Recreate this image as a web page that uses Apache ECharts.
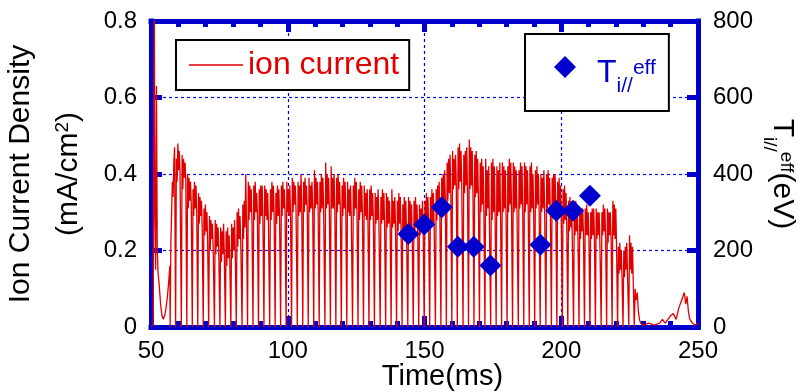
<!DOCTYPE html>
<html>
<head>
<meta charset="utf-8">
<script src="https://cdn.jsdelivr.net/npm/echarts@6/dist/echarts.min.js"></script>
<style>
html,body{margin:0;padding:0;background:#fff;}
#chart{width:802px;height:392px;}
</style>
</head>
<body>
<div id="chart"></div>
<script>
// ---- data ----
const xTicks = [50, 100, 150, 200, 250];          // Time (ms)
const yLeftTicks = [0, 0.2, 0.4, 0.6, 0.8];       // mA/cm2
const yRightTicks = [0, 200, 400, 600, 800];      // eV

// start-up transient (before the chopped part)
const preTime  = [50.2, 50.8, 51.2, 51.4, 51.7, 52.0, 52.3, 52.6, 53.0, 53.5, 54.0, 54.5, 55.0, 55.5, 56.0, 56.5, 56.9];
const preValue = [0.00, 0.01, 0.95, 0.30, 0.15, 0.63, 0.20, 0.14, 0.11, 0.06, 0.03, 0.02, 0.03, 0.05, 0.08, 0.12, 0.16];

// times (ms) at which the ion current drops to zero
const dipTimes = [
  57.0, 59.0, 61.1, 63.1, 65.1, 67.1, 69.1, 71.1, 73.2, 75.2,
  77.2, 79.2, 81.2, 83.3, 85.3, 87.3, 89.3, 91.3, 93.4, 95.4,
  97.4, 99.4, 101.4, 103.5, 105.5, 107.5, 109.5, 111.5, 113.6, 115.6,
  117.6, 119.6, 121.6, 123.7, 125.7, 127.7, 129.7, 131.7, 133.8, 135.8,
  137.8, 139.8, 141.8, 143.9, 145.9, 147.9, 149.9, 151.9, 154.0, 156.0,
  158.0, 160.0, 162.0, 164.1, 166.1, 168.1, 170.1, 172.1, 174.2, 176.2,
  178.2, 180.2, 182.2, 184.3, 186.3, 188.3, 190.3, 192.3, 194.4, 196.4,
  198.4, 200.4, 202.4, 204.5, 206.5, 208.5, 210.5, 212.5, 214.6, 216.6,
  218.6, 220.6, 222.6, 224.7, 226.7
];
// sample spacing (ms) of the readings inside each period
const bandStep = 0.27;
const perCycle = 6;
// six readings (mA/cm2) inside each period between two drops
const ionBand = [
  0.22,0.30,0.38,0.34,0.43,0.47, 0.44,0.38,0.48,0.41,0.46,0.40, 0.45,0.36,0.44,0.39,0.43,0.38,
  0.40,0.31,0.39,0.33,0.38,0.32, 0.36,0.29,0.38,0.31,0.37,0.30, 0.35,0.27,0.34,0.29,0.33,0.26,
  0.31,0.24,0.32,0.25,0.30,0.22, 0.29,0.20,0.28,0.23,0.27,0.21, 0.28,0.19,0.27,0.21,0.26,0.18,
  0.26,0.17,0.25,0.19,0.27,0.18, 0.25,0.16,0.26,0.18,0.24,0.17, 0.27,0.18,0.26,0.20,0.28,0.19,
  0.30,0.21,0.31,0.23,0.29,0.22, 0.32,0.23,0.33,0.26,0.40,0.27, 0.38,0.28,0.37,0.30,0.36,0.27,
  0.37,0.28,0.38,0.30,0.35,0.29, 0.36,0.27,0.37,0.29,0.37,0.28, 0.37,0.29,0.36,0.28,0.35,0.28,
  0.36,0.28,0.38,0.30,0.37,0.29, 0.35,0.27,0.37,0.29,0.36,0.28, 0.37,0.29,0.38,0.31,0.36,0.30,
  0.38,0.30,0.36,0.29,0.37,0.29, 0.39,0.30,0.38,0.32,0.37,0.31, 0.38,0.29,0.37,0.30,0.40,0.31,
  0.38,0.30,0.39,0.32,0.37,0.31, 0.39,0.30,0.37,0.31,0.38,0.31, 0.41,0.31,0.39,0.32,0.38,0.30,
  0.38,0.30,0.40,0.31,0.39,0.31, 0.43,0.31,0.40,0.32,0.39,0.30, 0.42,0.31,0.39,0.31,0.40,0.30,
  0.39,0.30,0.40,0.32,0.38,0.31, 0.37,0.29,0.39,0.31,0.38,0.30, 0.38,0.30,0.36,0.29,0.37,0.29,
  0.37,0.29,0.39,0.31,0.38,0.30, 0.36,0.28,0.38,0.30,0.37,0.29, 0.37,0.29,0.35,0.28,0.36,0.28,
  0.36,0.28,0.37,0.29,0.35,0.27, 0.35,0.27,0.34,0.28,0.36,0.28, 0.34,0.27,0.36,0.28,0.35,0.26,
  0.35,0.26,0.34,0.27,0.33,0.27, 0.36,0.26,0.33,0.27,0.34,0.25, 0.33,0.25,0.35,0.27,0.34,0.26,
  0.32,0.24,0.34,0.26,0.33,0.25, 0.34,0.25,0.33,0.24,0.32,0.23, 0.33,0.24,0.34,0.26,0.32,0.25,
  0.32,0.24,0.31,0.25,0.33,0.25, 0.33,0.25,0.35,0.27,0.34,0.26, 0.34,0.26,0.36,0.27,0.35,0.27,
  0.36,0.28,0.37,0.30,0.38,0.29, 0.39,0.30,0.40,0.32,0.41,0.33, 0.43,0.33,0.44,0.35,0.45,0.35,
  0.46,0.36,0.44,0.37,0.45,0.37, 0.47,0.36,0.48,0.38,0.46,0.37, 0.45,0.35,0.46,0.37,0.47,0.36,
  0.49,0.36,0.47,0.37,0.46,0.35, 0.45,0.34,0.46,0.35,0.44,0.33, 0.43,0.30,0.44,0.32,0.42,0.29,
  0.44,0.29,0.41,0.31,0.42,0.28, 0.43,0.28,0.44,0.30,0.42,0.29, 0.42,0.29,0.41,0.30,0.43,0.28,
  0.43,0.30,0.42,0.31,0.41,0.29, 0.42,0.30,0.44,0.32,0.43,0.31, 0.43,0.30,0.42,0.31,0.41,0.30,
  0.41,0.31,0.43,0.32,0.42,0.30, 0.43,0.30,0.42,0.32,0.41,0.31, 0.42,0.30,0.43,0.31,0.40,0.30,
  0.41,0.31,0.42,0.32,0.40,0.30, 0.40,0.30,0.39,0.31,0.41,0.31, 0.40,0.31,0.41,0.32,0.39,0.30,
  0.39,0.29,0.40,0.31,0.40,0.30, 0.38,0.29,0.39,0.30,0.37,0.28, 0.36,0.27,0.37,0.28,0.35,0.26,
  0.33,0.25,0.34,0.26,0.32,0.24, 0.31,0.24,0.33,0.25,0.32,0.23, 0.30,0.23,0.31,0.25,0.31,0.24,
  0.31,0.24,0.32,0.24,0.30,0.23, 0.30,0.23,0.31,0.24,0.31,0.24, 0.31,0.23,0.30,0.24,0.30,0.22,
  0.30,0.24,0.32,0.25,0.31,0.23, 0.31,0.22,0.30,0.24,0.30,0.23, 0.33,0.24,0.32,0.23,0.31,0.21,
  0.21,0.14,0.22,0.15,0.20,0.13, 0.20,0.13,0.21,0.15,0.22,0.14, 0.24,0.15,0.22,0.14,0.21,0.12
];

// decay and tail after the last drop
const postTime  = [227.0, 227.4, 227.8, 228.2, 228.6, 229.0, 230.0, 232.0, 234.0, 236.0, 237.0, 238.0, 239.0, 240.0, 241.0, 242.0, 243.0, 244.0, 245.0, 245.5, 246.0, 246.5, 247.0, 248.0, 249.0, 250.0];
const postValue = [0.10, 0.07, 0.09, 0.04, 0.02, 0.01, 0.005, 0.01, 0.005, 0.01, 0.02, 0.01, 0.02, 0.03, 0.035, 0.02, 0.05, 0.07, 0.09, 0.06, 0.08, 0.04, 0.02, 0.01, 0.005, 0.01];

// effective parallel ion temperature (eV)
const tiTime  = [144.1, 149.9, 156.3, 162.2, 168.0, 174.1, 192.4, 198.2, 204.3, 210.5];
const tiValue = [243, 268, 313, 210, 210, 161, 215, 304, 304, 343];

// ---- build series ----
const ionData = [];
preTime.forEach((t, i) => ionData.push([t, preValue[i]]));
dipTimes.forEach((t, i) => {
  ionData.push([t, 0]);
  if (i < dipTimes.length - 1) {
    for (let k = 0; k < perCycle; k++) ionData.push([+(t + bandStep * (k + 1)).toFixed(2), ionBand[i * perCycle + k]]);
  }
});
postTime.forEach((t, i) => ionData.push([t, postValue[i]]));
const tiData = tiTime.map((t, i) => [t, tiValue[i]]);

const BLUE = '#0000cc';
const RED = '#e00000';
const FONT = '"Liberation Sans", Arial, sans-serif';

const axisLine = { show: true, onZero: false, lineStyle: { color: BLUE, width: 5, cap: 'square' } };
const majorTick = { show: true, inside: true, length: 11, lineStyle: { color: BLUE, width: 5 } };
const gridLine = { show: true, lineStyle: { color: '#0000ee', width: 1.2, type: [3, 3] } };

const chart = echarts.init(document.getElementById('chart'), null, { renderer: 'canvas' });
chart.setOption({
  animation: false,
  backgroundColor: '#fff',
  textStyle: { fontFamily: FONT },
  grid: { left: 151, right: 104, top: 21, bottom: 65, containLabel: false, outerBoundsMode: 'none' },
  xAxis: [
    {
      type: 'value', position: 'bottom',
      min: xTicks[0], max: xTicks[xTicks.length - 1], interval: xTicks[1] - xTicks[0],
      axisLine, axisTick: majorTick,
      minorTick: { show: true, splitNumber: 5, length: 6, lineStyle: { color: BLUE, width: 5 } },
      splitLine: gridLine,
      axisLabel: { fontSize: 24, color: '#000', margin: 12, fontFamily: FONT },
      name: 'Time(ms)', nameLocation: 'middle', nameGap: 35, nameMoveOverlap: false,
      nameTextStyle: { fontSize: 29, color: '#000', fontFamily: FONT, padding: [0, 0, 0, 36] }
    },
    {
      type: 'value', position: 'top',
      min: xTicks[0], max: xTicks[xTicks.length - 1], interval: xTicks[1] - xTicks[0],
      axisLine, axisTick: majorTick,
      minorTick: { show: true, splitNumber: 5, length: 6, lineStyle: { color: BLUE, width: 5 } },
      splitLine: { show: false }, axisLabel: { show: false }
    }
  ],
  yAxis: [
    {
      type: 'value', position: 'left',
      min: yLeftTicks[0], max: yLeftTicks[yLeftTicks.length - 1], interval: yLeftTicks[1] - yLeftTicks[0],
      axisLine, axisTick: majorTick, splitLine: gridLine,
      axisLabel: { fontSize: 24, color: '#000', margin: 14, fontFamily: FONT },
      name: 'Ion Current Density\n(mA/cm{sup|2})', nameLocation: 'middle', nameRotate: 90, nameGap: 58,
      nameMoveOverlap: false,
      nameTextStyle: {
        fontSize: 30, color: '#000', fontFamily: FONT, lineHeight: 48, align: 'center',
        rich: { sup: { fontSize: 19, verticalAlign: 'top', padding: [8, 0, 0, 0], color: '#000', fontFamily: FONT } }
      }
    },
    {
      type: 'value', position: 'right',
      min: yRightTicks[0], max: yRightTicks[yRightTicks.length - 1], interval: yRightTicks[1] - yRightTicks[0],
      axisLine, axisTick: majorTick, splitLine: { show: false },
      axisLabel: { fontSize: 24, color: '#000', margin: 15, fontFamily: FONT },
      name: 'T{sub|i//}{sup|eff}(eV)', nameLocation: 'middle', nameRotate: -90, nameGap: 62,
      nameMoveOverlap: false,
      nameTextStyle: {
        fontSize: 30, color: '#000', fontFamily: FONT, lineHeight: 44,
        rich: {
          sub: { fontSize: 19, verticalAlign: 'bottom', color: '#000', fontFamily: FONT },
          sup: { fontSize: 19, verticalAlign: 'top', padding: [8, 0, 0, 0], color: '#000', fontFamily: FONT }
        }
      }
    }
  ],
  legend: [
    {
      data: [{ name: 'ion current', icon: 'rect' }],
      left: 176, top: 40, orient: 'horizontal',
      backgroundColor: '#fff', borderColor: '#000', borderWidth: 2,
      padding: [9, 10, 9, 13],
      itemWidth: 54, itemHeight: 1.5, itemGap: 0,
      textStyle: { fontSize: 32, color: RED, fontFamily: FONT }
    },
    {
      data: [{ name: 'Ti', icon: 'diamond' }],
      left: 525, top: 34, orient: 'horizontal',
      backgroundColor: '#fff', borderColor: '#000', borderWidth: 2,
      padding: [3, 13, 14, 29],
      itemWidth: 22, itemHeight: 22, itemGap: 0,
      formatter: () => 'T{sub|i//}{sup|eff}',
      textStyle: {
        fontSize: 32, color: BLUE, fontFamily: FONT, lineHeight: 48, padding: [12, 0, 0, 16],
        rich: {
          sub: { fontSize: 21, verticalAlign: 'bottom', color: BLUE, fontFamily: FONT },
          sup: { fontSize: 21, verticalAlign: 'top', padding: [9, 0, 0, 0], color: BLUE, fontFamily: FONT }
        }
      }
    }
  ],
  series: [
    {
      name: 'ion current', type: 'line', xAxisIndex: 0, yAxisIndex: 0,
      data: ionData, showSymbol: false, symbol: 'none', sampling: false, clip: true,
      lineStyle: { color: RED, width: 1.3 }, itemStyle: { color: RED },
      z: 2
    },
    {
      name: 'Ti', type: 'scatter', xAxisIndex: 0, yAxisIndex: 1,
      data: tiData, symbol: 'diamond', symbolSize: 22,
      itemStyle: { color: BLUE, opacity: 1 }, z: 3
    }
  ]
});
</script>
</body>
</html>
